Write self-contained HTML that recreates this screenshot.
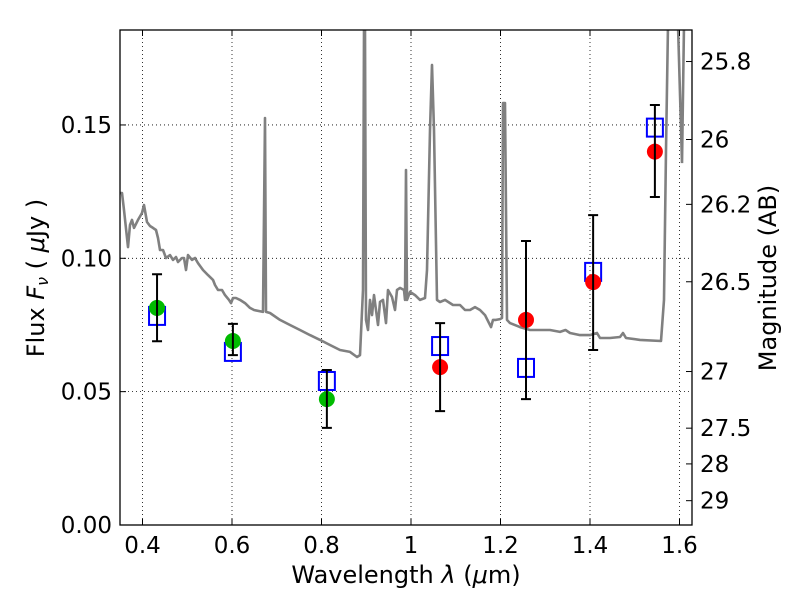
<!DOCTYPE html>
<html><head><meta charset="utf-8"><style>
body{margin:0;background:#fff;}
svg{display:block;font-family:"DejaVu Sans","Liberation Sans",sans-serif;}
</style></head><body>
<svg id="chart" width="800" height="600" viewBox="0 0 800 600" xmlns="http://www.w3.org/2000/svg">
<rect width="800" height="600" fill="#fff"/>
<g id="grid"></g>
<g id="spec"></g>
<g id="marks"></g>
<g id="axes"></g>
<text x="406" y="583" font-size="24" text-anchor="middle">Wavelength  <tspan font-style="italic">λ</tspan> (<tspan font-style="italic">μ</tspan>m)</text>
<text transform="translate(44,278) rotate(-90)" font-size="24" text-anchor="middle">Flux  <tspan font-style="italic">F<tspan font-size="16" dy="4">ν</tspan></tspan><tspan dy="-4">  ( </tspan><tspan font-style="italic">μ</tspan>Jy )</text>
<text transform="translate(776,278) rotate(-90)" font-size="24" text-anchor="middle">Magnitude (AB)</text>
</svg>
<script>
const xTicks=[0.4,0.6,0.8,1.0,1.2,1.4,1.6];
const xTickLabels=["0.4","0.6","0.8","1","1.2","1.4","1.6"];
const yTicks=[0,0.05,0.10,0.15];
const yTickLabels=["0.00","0.05","0.10","0.15"];
const magTicks=[25.8,26,26.2,26.5,27,27.5,28,29];
const magTickLabels=["25.8","26","26.2","26.5","27","27.5","28","29"];
const bandLam=[0.4325,0.602,0.812,1.065,1.257,1.407,1.545];
const obsFlux=[0.0814,0.069,0.0472,0.0592,0.0769,0.0911,0.140];
const obsColor=["#00bb00","#00bb00","#00bb00","#ff0000","#ff0000","#ff0000","#ff0000"];
const errLo=[0.0689,0.0637,0.0364,0.0427,0.0472,0.0656,0.123];
const errHi=[0.094,0.0754,0.0581,0.0757,0.1065,0.1162,0.1575];
const modelFlux=[0.0784,0.0649,0.054,0.0671,0.0589,0.0949,0.149];
const specLam=[0.3497,0.3542,0.3587,0.3676,0.3721,0.3765,0.381,0.3899,0.3989,0.4034,0.4101,0.4168,0.4235,0.4302,0.4346,0.4391,0.4458,0.4525,0.4615,0.4682,0.4749,0.4793,0.4883,0.4927,0.4972,0.5017,0.5106,0.5173,0.524,0.5352,0.5464,0.5575,0.562,0.5687,0.5777,0.5844,0.5933,0.5978,0.6022,0.6089,0.6179,0.6291,0.6402,0.6492,0.6693,0.6737,0.676,0.6849,0.7073,0.7296,0.752,0.7743,0.7966,0.819,0.8413,0.8637,0.8793,0.886,0.8927,0.895,0.8972,0.8994,0.9039,0.9084,0.9128,0.9173,0.9218,0.9263,0.9307,0.9374,0.9441,0.9486,0.9575,0.9642,0.9687,0.9754,0.9844,0.9866,0.9888,0.9911,0.9978,1.0089,1.0201,1.0313,1.0358,1.0425,1.047,1.0514,1.0581,1.0648,1.076,1.0939,1.1095,1.1207,1.1318,1.143,1.1542,1.1654,1.1788,1.1832,1.1899,1.1989,1.2034,1.2056,1.2101,1.2145,1.2212,1.2436,1.2659,1.2883,1.3106,1.333,1.3453,1.3553,1.3777,1.4,1.4156,1.4223,1.4447,1.467,1.4737,1.4804,1.5117,1.5587,1.5654,1.5698,1.5743];
const specFlux=[0.1245,0.1245,0.1181,0.1042,0.1125,0.1144,0.1114,0.1144,0.117,0.12,0.1136,0.1121,0.1114,0.1106,0.1076,0.1031,0.1031,0.1001,0.1012,0.0994,0.1005,0.0986,0.1001,0.1001,0.0956,0.1012,0.0994,0.1001,0.0982,0.0956,0.0937,0.0919,0.09,0.0881,0.0881,0.0862,0.0844,0.0832,0.0851,0.0851,0.0844,0.0832,0.0814,0.0806,0.0799,0.1526,0.0799,0.0795,0.0769,0.075,0.0731,0.0712,0.0694,0.0675,0.0656,0.0649,0.063,0.0637,0.0881,0.1856,0.1856,0.0769,0.0731,0.0844,0.0787,0.0862,0.0806,0.075,0.0836,0.0844,0.0757,0.0881,0.0855,0.0806,0.0881,0.0889,0.0881,0.0844,0.1331,0.0844,0.0874,0.0862,0.0844,0.0851,0.0956,0.1481,0.1725,0.1481,0.0844,0.0836,0.0844,0.0825,0.0825,0.0806,0.0806,0.0817,0.0806,0.0787,0.0742,0.0769,0.0769,0.0772,0.0776,0.1582,0.1582,0.0769,0.0757,0.0742,0.0731,0.0731,0.0731,0.0724,0.0731,0.072,0.0712,0.0712,0.072,0.0701,0.0701,0.0705,0.072,0.0701,0.0694,0.069,0.0844,0.1406,0.1875];
const specLam2=[1.5966,1.6056,1.6101];
const specFlux2=[0.1875,0.1357,0.1875];

const X0=142.5,XS=447.5,Y0=525,YS=2667;
const L=120,R=692,T=30,B=525;
function xs(l){return X0+(l-0.4)*XS;}
function ys(f){return Y0-f*YS;}
function ym(m){return ys(Math.pow(10,(23.9-m)/2.5));}
const NS="http://www.w3.org/2000/svg";
function mk(tag,attrs,parent){const e=document.createElementNS(NS,tag);for(const k in attrs)e.setAttribute(k,attrs[k]);parent.appendChild(e);return e;}
const grid=document.getElementById('grid'),axes=document.getElementById('axes'),spec=document.getElementById('spec'),marks=document.getElementById('marks');
xTicks.forEach((v,i)=>{const x=xs(v);
 const g=mk('line',{x1:x,x2:x,y1:T,y2:B,stroke:'#000','stroke-width':0.8,'stroke-dasharray':'1,3'},grid);
 
 
 mk('line',{x1:x,x2:x,y1:B,y2:B-6,stroke:'#000'},axes);
 mk('line',{x1:x,x2:x,y1:T,y2:T+6,stroke:'#000'},axes);
 const t=mk('text',{x:x,y:B+28,'font-size':23,'text-anchor':'middle'},axes);t.textContent=xTickLabels[i];
 
 
});
yTicks.forEach((v,i)=>{const y=ys(v);
 const g=mk('line',{x1:L,x2:R,y1:y,y2:y,stroke:'#000','stroke-width':0.8,'stroke-dasharray':'1,3'},grid);
 
 
 mk('line',{x1:L,x2:L+6,y1:y,y2:y,stroke:'#000'},axes);
 const t=mk('text',{x:L-8,y:y+8,'font-size':23,'text-anchor':'end'},axes);t.textContent=yTickLabels[i];
 
 
});
magTicks.forEach((m,i)=>{const y=ym(m);
 mk('line',{x1:R,x2:R-6,y1:y,y2:y,stroke:'#000'},axes);
 const t=mk('text',{x:R+8,y:y+8,'font-size':23,'text-anchor':'start'},axes);t.textContent=magTickLabels[i];
 
 
});
const fr=mk('rect',{x:L,y:T,width:R-L,height:B-T,fill:'none',stroke:'#000','stroke-width':1.3},axes);


const clip=mk('clipPath',{id:'pc'},spec);mk('rect',{x:L,y:T,width:R-L,height:B-T},clip);
const sp=mk('path',{d:specLam.map((l,i)=>(i?'L':'M')+xs(l).toFixed(1)+','+ys(specFlux[i]).toFixed(1)).join(''),fill:'none',stroke:'#808080','stroke-width':2.6,'clip-path':'url(#pc)','stroke-linejoin':'round'},spec);


const sp2=mk('path',{d:specLam2.map((l,i)=>(i?'L':'M')+xs(l).toFixed(1)+','+ys(specFlux2[i]).toFixed(1)).join(''),fill:'none',stroke:'#808080','stroke-width':2.6,'clip-path':'url(#pc)'},spec);


bandLam.forEach((l,i)=>{const x=xs(l);
 const s=mk('rect',{x:x-8,y:ys(modelFlux[i])-9,width:16,height:18,fill:'none',stroke:'#0000ff','stroke-width':2},marks);
 
 
 const c=mk('circle',{cx:x,cy:ys(obsFlux[i]),r:8,fill:obsColor[i]},marks);
 
 
 const e=mk('path',{d:`M${x},${ys(errLo[i])}V${ys(errHi[i])}M${x-5},${ys(errLo[i])}h10M${x-5},${ys(errHi[i])}h10`,stroke:'#000','stroke-width':2,fill:'none'},marks);
 
 
});
</script>
</body></html>
